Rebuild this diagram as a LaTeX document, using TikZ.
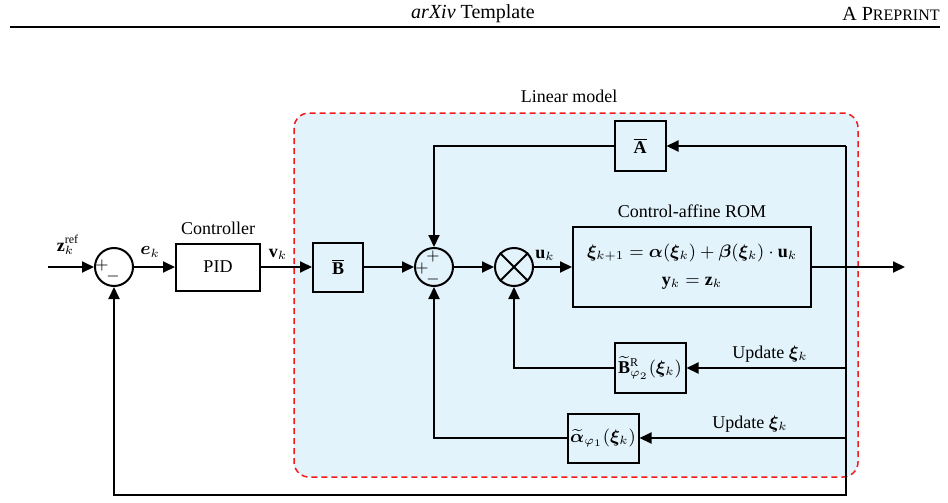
\documentclass[tikz,border=0pt]{standalone}
\usepackage{amsmath,amssymb}
\usepackage{bm}
\usepackage{fontspec}
\setmainfont{Liberation Serif}
\usetikzlibrary{arrows.meta}
\definecolor{ModelBlue}{HTML}{E3F3FB}
\definecolor{DashRed}{HTML}{F51A1A}

\tikzset{
  blockbox/.style={draw, line width=1pt, fill=ModelBlue, inner sep=2pt, align=center},
  sumnode/.style={circle, draw, line width=1pt, fill=ModelBlue, minimum size=19pt, inner sep=0pt},
  signsym/.style={inner sep=0pt, font=\footnotesize},
  signal/.style={-{Triangle[length=6pt,width=5.5pt]}, line width=1pt},
  wire/.style={line width=1pt}
}

\begin{document}
\begin{tikzpicture}[x=0.5pt,y=-0.5pt, font=\fontsize{9}{11}\selectfont]
\useasboundingbox (0,0) rectangle (948,503);

% --- page header ---
\node (head-mid) at (473,14) {\fontsize{10}{12}\selectfont\textit{arXiv} Template};
\node[anchor=east, inner sep=0pt] (head-right) at (940,14) {\fontsize{10}{12}\selectfont A P{\fontsize{8}{10}\selectfont REPRINT}};
\draw[line width=0.7pt] (10,27) -- (940,27);

% --- linear model frame ---
\draw[DashRed, dashed, dash pattern=on 3pt off 2pt, line width=0.75pt, rounded corners=7.5pt, fill=ModelBlue] (294,113) rectangle (858,477);
\node (lin-lab) at (569,96) {Linear model};

% --- blocks ---
\node[sumnode, fill=white] (s1) at (114,267) {};
\node[signsym] (s1-p) at (102,265) {$+$};
\node[signsym] (s1-m) at (113,276) {$-$};
\node[blockbox, fill=white, minimum width=42pt, minimum height=23.5pt] (pid) at (218,267) {PID};
\node (ctrl-lab) at (218,228) {Controller};
\node[blockbox, minimum width=25pt, minimum height=24.5pt] (bbar) at (338,267) {$\overline{\mathbf{B}}$};
\node[sumnode] (s2) at (434,267) {};
\node[signsym] (s2-t) at (433,256) {$+$};
\node[signsym] (s2-l) at (422,268) {$+$};
\node[signsym] (s2-b) at (433,279) {$-$};
\node[sumnode] (mult) at (514,267) {};
\draw[wire] (mult.north west) -- (mult.south east);
\draw[wire] (mult.north east) -- (mult.south west);
\node[blockbox, minimum width=119pt, minimum height=40pt] (rom) at (692,267)
  {$\bm{\xi}_{k+1} = \bm{\alpha}(\bm{\xi}_k) + \bm{\beta}(\bm{\xi}_k)\cdot\mathbf{u}_k$\\[3pt] $\mathbf{y}_k = \mathbf{z}_k$};
\node (rom-lab) at (692,211) {Control-affine ROM};
\node[blockbox, minimum width=25.5pt, minimum height=25pt] (abar) at (640,146) {$\overline{\mathbf{A}}$};
\node[blockbox, minimum width=35.5pt, minimum height=25pt, inner sep=1pt] (btil) at (650,368) {$\widetilde{\mathbf{B}}^{\mathrm{R}}_{\varphi_2}(\bm{\xi}_k)$};
\node[blockbox, minimum width=35.5pt, minimum height=24.5pt, inner sep=1pt] (alph) at (603,438) {$\widetilde{\bm{\alpha}}_{\varphi_1}(\bm{\xi}_k)$};

% --- coordinates ---
\coordinate (zin) at (48,267);
\coordinate (yout) at (905,267);
\coordinate (tapA) at (846,146);
\coordinate (tapB) at (846,368);
\coordinate (tapC) at (846,438);
\coordinate (fbR) at (846,495);

% --- forward path ---
\draw[signal] (zin) -- (s1);
\node (zref-lab) at (68,245) {$\mathbf{z}_k^{\mathrm{ref}}$};
\draw[signal] (s1) -- (pid);
\node (e-lab) at (150,252) {$\bm{e}_k$};
\draw[signal] (pid) -- (bbar);
\node (v-lab) at (278,254) {$\mathbf{v}_k$};
\draw[signal] (bbar) -- (s2);
\draw[signal] (s2) -- (mult);
\draw[signal] (mult) -- (rom);
\node (u-lab) at (545,255) {$\mathbf{u}_k$};
\draw[signal] (rom) -- (yout);

% --- feedback paths ---
\draw[signal] (tapA) -- (fbR) -| (s1.south);
\draw[signal] (tapA) -- (abar);
\draw[signal] (abar.west) -| (s2.north);
\draw[signal] (tapB) -- (btil);
\node (upd-b) at (770,354) {Update $\bm{\xi}_k$};
\draw[signal] (btil.west) -| (mult.south);
\draw[signal] (tapC) -- (alph);
\node (upd-a) at (750,424) {Update $\bm{\xi}_k$};
\draw[signal] (alph.west) -| (s2.south);
\end{tikzpicture}
\end{document}
